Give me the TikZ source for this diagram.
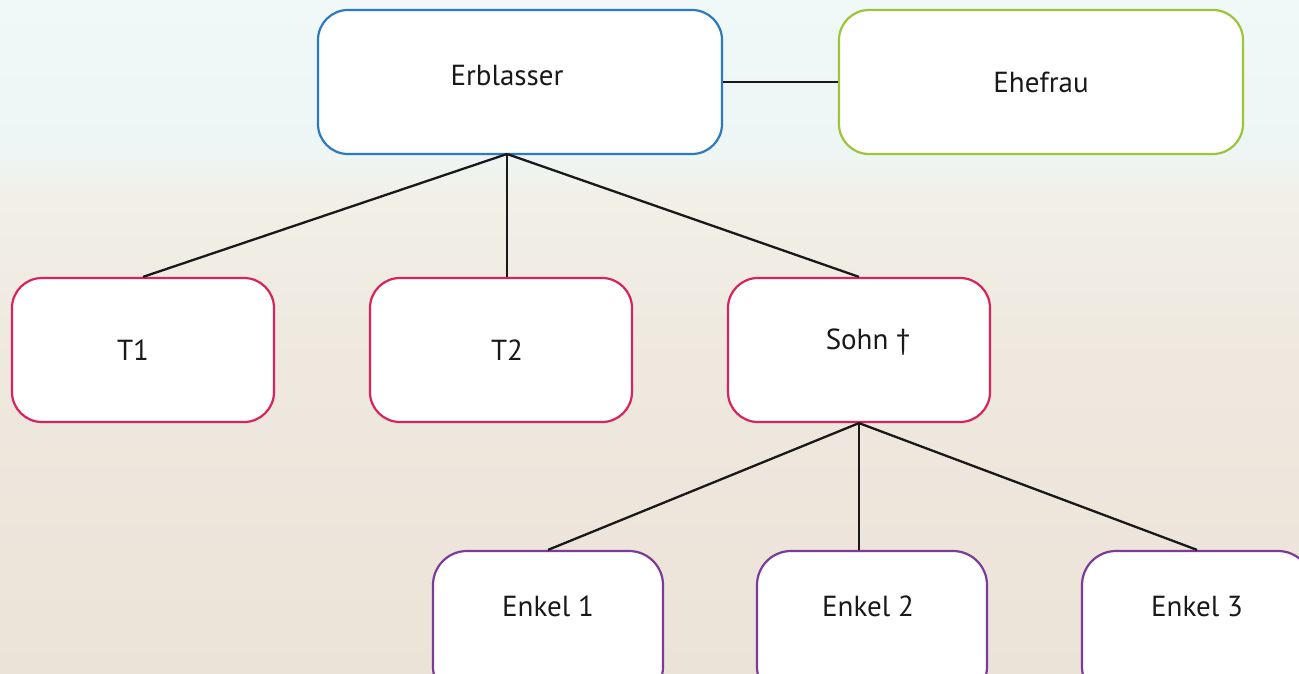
\documentclass[tikz,border=0pt]{standalone}
\usepackage{fontspec}
\setmainfont{PT Sans}
\definecolor{cblue}{HTML}{2A7BC4}
\definecolor{cgreen}{HTML}{9CC53A}
\definecolor{cred}{HTML}{D8245C}
\definecolor{cpurple}{HTML}{7B3B99}
\pgfdeclareverticalshading{bgshade}{100bp}{%
  color(0bp)=(rgb,255:red,236;green,227;blue,216);
  color(25bp)=(rgb,255:red,236;green,227;blue,216);
  color(47bp)=(rgb,255:red,238;green,232;blue,222);
  color(60bp)=(rgb,255:red,241;green,239;blue,230);
  color(64bp)=(rgb,255:red,238;green,246;blue,245);
  color(75bp)=(rgb,255:red,240;green,248;blue,248);
  color(100bp)=(rgb,255:red,240;green,248;blue,248)}
\begin{document}
\begin{tikzpicture}[x=1pt,y=-1pt,
  box/.style={draw,line width=2.2pt,fill=white,rounded corners=30pt,
    font=\fontsize{29}{34}\selectfont,text=black!90},
  topbox/.style={box,minimum width=404pt,minimum height=144pt},
  midbox/.style={box,draw=cred,minimum width=262pt,minimum height=144pt},
  lowbox/.style={box,draw=cpurple,rounded corners=34pt,minimum width=230pt,minimum height=150pt,text depth=40pt},
  link/.style={line width=2.3pt,black!90}]
\useasboundingbox (0,0) rectangle (1299,674);
\shade[shading=bgshade] (0,0) rectangle (1299,674);
\node[topbox,draw=cblue,text depth=14pt] (erb) at (520,82) {\hspace*{-26pt}Erblasser};
\node[topbox,draw=cgreen] (ehe) at (1041,82) {Ehefrau};
\node[midbox] (t1) at (143,350) {\hspace*{-20pt}T1};
\node[midbox] (t2) at (501,350) {\hspace*{12pt}T2};
\node[midbox,text depth=22pt] (sohn) at (859,350) {\hspace*{18pt}Sohn \char"2020};
\node[lowbox] (e1) at (548,626) {Enkel 1};
\node[lowbox] (e2) at (872,626) {\hspace*{-8pt}Enkel 2};
\node[lowbox] (e3) at (1197,626) {Enkel 3};
\coordinate (erbs) at (507,154);
\draw[link] (erb.east) -- (ehe.west);
\draw[link] (erbs) -- (t1.north);
\draw[link] (erbs) -- (t2.north -| erbs);
\draw[link] (erbs) -- (sohn.north);
\draw[link] (sohn.south) -- (e1.north);
\draw[link] (sohn.south) -- (e2.north -| sohn.south);
\draw[link] (sohn.south) -- (e3.north);
\end{tikzpicture}
\end{document}
